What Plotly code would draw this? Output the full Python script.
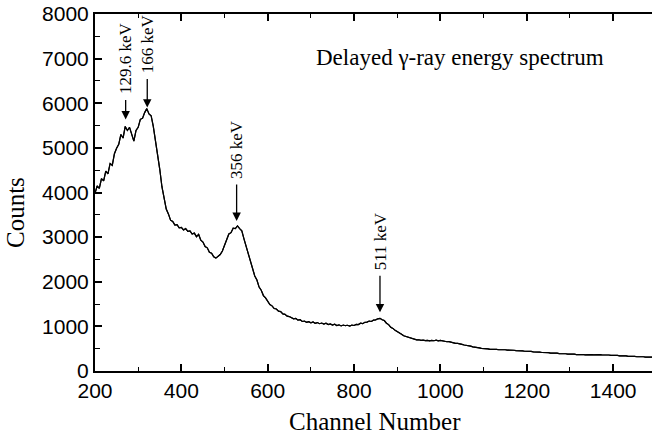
import plotly.graph_objects as go

# ---- data ----
channels = list(range(200, 1491, 5))
counts = [
    3980, 4150, 4090, 4310, 4260, 4480, 4420, 4650, 4610, 4870,   # 200-245
    4990, 5080, 5300, 5220, 5480, 5390, 5460, 5280, 5150, 5390,   # 250-295
    5460, 5640, 5660, 5790, 5880, 5760, 5720, 5480, 5180, 4820,   # 300-345
    4520, 4130, 3880, 3630, 3520, 3380, 3350, 3270, 3280, 3210,   # 350-395
    3220, 3160, 3190, 3130, 3140, 3070, 3090, 3010, 3060, 2930,   # 400-445
    2890, 2790, 2760, 2660, 2640, 2560, 2530, 2570, 2610, 2690,   # 450-495
    2820, 2910, 3070, 3100, 3200, 3190, 3250, 3190, 3140, 2960,   # 500-545
    2790, 2640, 2430, 2320, 2130, 2040, 1880, 1810, 1690, 1640,   # 550-595
    1570, 1490, 1460, 1400, 1390, 1340, 1330, 1280, 1270, 1230,   # 600-645
    1220, 1190, 1170, 1180, 1140, 1150, 1110, 1120, 1090, 1105,   # 650-695
    1080, 1100, 1070, 1085, 1060, 1075, 1050, 1070, 1040, 1055,   # 700-745
    1030, 1050, 1020, 1035, 1010, 1030, 1015, 1025, 1005, 1030,   # 750-795
    1020, 1045, 1040, 1070, 1060, 1090, 1095, 1120, 1110, 1140,   # 800-845
    1145, 1170, 1180, 1150, 1130, 1070, 1040, 980, 955, 910,      # 850-895
    885, 845, 825, 790, 775, 745, 735, 715, 712, 698,             # 900-945
    700, 685, 692, 680, 688, 675, 685, 678, 690, 676,             # 950-995
    685, 670, 672, 655, 658, 640, 638, 620, 618, 600,             # 1000-1045
    598, 582, 578, 560, 558, 540, 538, 522, 520, 508,             # 1050-1095
    508, 498, 497, 486, 490, 480, 484, 476, 480, 472,             # 1100-1145
    476, 468, 471, 462, 465, 455, 458, 449, 452, 443,             # 1150-1195
    446, 437, 439, 429, 431, 421, 424, 415, 418, 409,             # 1200-1245
    411, 402, 405, 395, 399, 390, 393, 384, 387, 378,             # 1250-1295
    381, 373, 377, 369, 373, 365, 370, 362, 368, 362,             # 1300-1345
    368, 361, 367, 360, 365, 358, 363, 355, 359, 351,             # 1350-1395
    355, 346, 349, 340, 343, 334, 337, 328, 331, 323,             # 1400-1445
    327, 319, 323, 315, 319, 311, 315, 306, 309,                  # 1450-1490
]

peak_channels = [271, 321, 528, 860]
peak_labels = ["129.6 keV", "166 keV", "356 keV", "511 keV"]

x_ticks = [200, 400, 600, 800, 1000, 1200, 1400]
y_ticks = [0, 1000, 2000, 3000, 4000, 5000, 6000, 7000, 8000]

title_text = "Delayed γ-ray energy spectrum"
x_title = "Channel Number"
y_title = "Counts"

# ---- style ----
arrow_len = [21, 30, 38, 38]
arrow_gap = [7, 1, 5, 6]
SERIF = "Liberation Serif, Times New Roman, serif"
SANS = "Liberation Sans, Arial, Helvetica, sans-serif"


def value_at(ch):
    best = min(range(len(channels)), key=lambda i: abs(channels[i] - ch))
    return counts[best]


fig = go.Figure()
fig.add_trace(go.Scatter(x=channels, y=counts, mode="lines",
                         line=dict(color="black", width=1.2),
                         showlegend=False, hoverinfo="skip"))
# same data attached to a top axis, so the upper frame line and ticks are drawn
fig.add_trace(go.Scatter(x=channels, y=counts, mode="lines", xaxis="x2",
                         line=dict(color="black", width=1.2),
                         showlegend=False, hoverinfo="skip"))

annotations = []
for ch, lab, L, g in zip(peak_channels, peak_labels, arrow_len, arrow_gap):
    v = value_at(ch)
    annotations.append(dict(x=ch, y=v, xref="x", yref="y", text="",
                            showarrow=True, arrowhead=2, arrowsize=1.3,
                            arrowwidth=1.3, arrowcolor="black",
                            ax=0, ay=-(L + g), standoff=g))
    annotations.append(dict(x=ch, y=v, xref="x", yref="y", text=lab,
                            showarrow=False, textangle=-90,
                            xanchor="center", yanchor="bottom",
                            yshift=L + g + 2,
                            font=dict(family=SERIF, size=17, color="black")))

annotations.append(dict(x=0.656, y=0.877, xref="paper", yref="paper",
                        text=title_text, showarrow=False,
                        xanchor="center", yanchor="middle",
                        font=dict(family=SERIF, size=23, color="black")))
annotations.append(dict(x=0.503, y=-0.1406, xref="paper", yref="paper",
                        text=x_title, showarrow=False,
                        xanchor="center", yanchor="middle",
                        font=dict(family=SERIF, size=25, color="black")))
annotations.append(dict(x=-0.1424, y=0.4445, xref="paper", yref="paper",
                        text=y_title, showarrow=False, textangle=-90,
                        xanchor="center", yanchor="middle",
                        font=dict(family=SERIF, size=25, color="black")))

axis_common = dict(range=[200, 1490], tickvals=x_ticks, ticks="inside",
                   ticklen=7, tickwidth=1.5, tickcolor="black",
                   showline=True, linecolor="black", linewidth=2,
                   showgrid=False, zeroline=False, automargin=False,
                   minor=dict(dtick=100, tick0=200, ticks="inside",
                              ticklen=4, tickwidth=1.2, tickcolor="black",
                              showgrid=False))

fig.update_layout(
    width=652, height=438,
    margin=dict(l=95, r=0, t=14, b=67, autoexpand=False),
    paper_bgcolor="white", plot_bgcolor="white",
    annotations=annotations,
    xaxis=dict(**axis_common, ticklabeloverflow="allow",
               tickfont=dict(family=SANS, size=21, color="black")),
    xaxis2=dict(**axis_common, overlaying="x", side="top", anchor="y",
                showticklabels=False),
    yaxis=dict(range=[0, 8000], tickvals=y_ticks, ticks="inside",
               ticklen=7, tickwidth=1.5, tickcolor="black",
               showline=True, linecolor="black", linewidth=2,
               showgrid=False, zeroline=False, automargin=False,
               ticklabeloverflow="allow",
               tickfont=dict(family=SANS, size=21, color="black"),
               minor=dict(dtick=500, tick0=0, ticks="inside", ticklen=5,
                          tickwidth=1.2, tickcolor="black", showgrid=False)),
)

# remove the browser's default 8px page margin so the figure fills the window
fig.write_html("out.html",
               config={"displayModeBar": False},
               post_script="document.body.style.margin='0';")
